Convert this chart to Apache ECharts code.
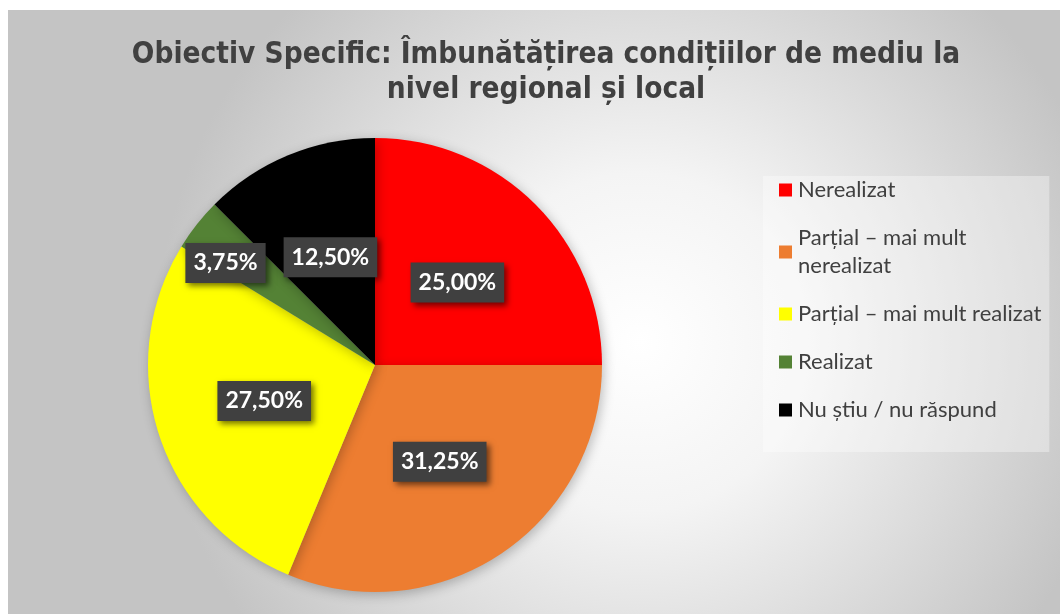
<!DOCTYPE html>
<html>
<head>
<meta charset="utf-8">
<script src="https://cdn.jsdelivr.net/npm/echarts@6/dist/echarts.min.js"></script>
<style>
  html, body { margin: 0; padding: 0; background: #fff; }
  #chart { position: absolute; left: 8px; top: 10px; width: 1052px; height: 604px; }
</style>
</head>
<body>
<div id="chart"></div>
<script>
const titleText = "Obiectiv Specific: Îmbunătățirea condițiilor de mediu la\nnivel regional și local";
const categories = ["Nerealizat", "Parțial – mai mult nerealizat", "Parțial – mai mult realizat", "Realizat", "Nu știu / nu răspund"];
const values = [25.0, 31.25, 27.5, 3.75, 12.5];
const colors = ["#ff0000", "#ed7d31", "#ffff00", "#548235", "#000000"];

const chart = echarts.init(document.getElementById("chart"), null, { renderer: "canvas" });

const fmtPct = (v) => v.toFixed(2).replace(".", ",") + "%";

chart.setOption({
  backgroundColor: {
    type: "radial", x: 0.6, y: 0.55, r: 0.8,
    colorStops: [
      { offset: 0, color: "#ffffff" },
      { offset: 0.35, color: "#f4f4f4" },
      { offset: 1, color: "#c4c4c4" }
    ]
  },
  title: {
    text: titleText,
    left: 533,
    top: 23,
    textAlign: "center",
    textStyle: {
      fontFamily: "DejaVu Sans Condensed",
      fontWeight: "bold",
      fontSize: 29.5,
      lineHeight: 35,
      color: "#404040"
    }
  },
  legend: {
    orient: "vertical",
    left: 755,
    top: 166,
    padding: [0, 8, 28, 16],
    backgroundColor: "rgba(255,255,255,0.35)",
    itemWidth: 13,
    itemHeight: 13,
    itemGap: 20,
    icon: "rect",
    data: categories,
    formatter: (name) => name === categories[1] ? "Parțial – mai mult\nnerealizat" : name,
    textStyle: {
      fontFamily: "Lato",
      fontSize: 22,
      lineHeight: 28,
      color: "#404040",
      padding: [0, 0, 0, 1]
    }
  },
  series: [{
    type: "pie",
    center: [367, 355],
    radius: 227,
    startAngle: 90,
    clockwise: true,
    avoidLabelOverlap: false,
    silent: true,
    itemStyle: {
      shadowBlur: 12,
      shadowColor: "rgba(0,0,0,0.25)",
      shadowOffsetX: 2,
      shadowOffsetY: 3
    },
    label: {
      show: true,
      position: "inside",
      formatter: (p) => fmtPct(p.value),
      fontFamily: "Lato",
      fontWeight: "bold",
      fontSize: 23,
      color: "#ffffff",
      backgroundColor: "#404040",
      padding: [9, 8, 8, 8],
      shadowBlur: 6,
      shadowColor: "rgba(0,0,0,0.55)",
      shadowOffsetX: 3,
      shadowOffsetY: 3
    },
    labelLine: { show: false },
    data: categories.map((name, i) => {
      const item = { name, value: values[i], itemStyle: { color: colors[i] } };
      if (i === 3) item.label = { offset: [-58, -30] };
      return item;
    })
  }]
});
</script>
</body>
</html>
